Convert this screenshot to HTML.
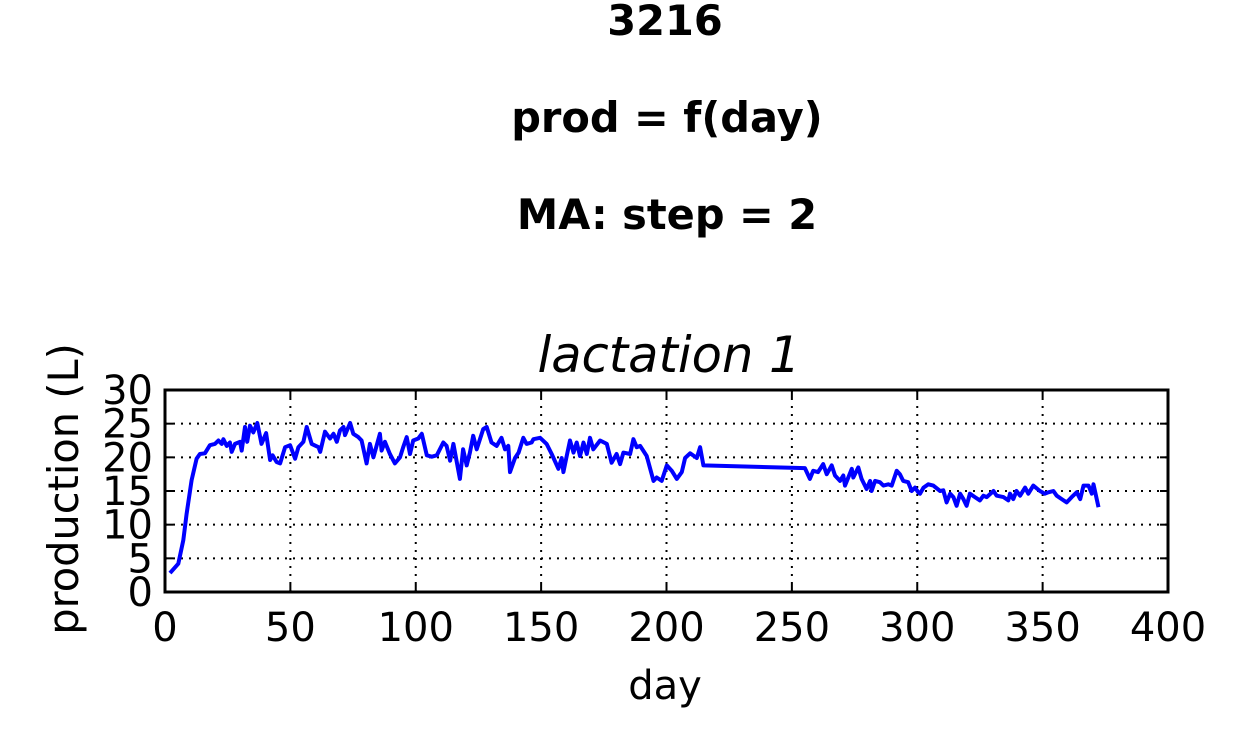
<!DOCTYPE html>
<html><head><meta charset="utf-8"><style>
body{margin:0;background:#fff;width:1250px;height:750px;overflow:hidden}
svg{font-family:"DejaVu Sans","Liberation Sans",sans-serif}
</style></head><body>
<svg id="chart" width="1250" height="750">
<text x="665" y="35" text-anchor="middle" font-size="41.5" font-weight="bold">3216</text>
<text x="667" y="132" text-anchor="middle" font-size="41.5" font-weight="bold">prod = f(day)</text>
<text x="667" y="229" text-anchor="middle" font-size="41.5" font-weight="bold">MA: step = 2</text>
<text x="669" y="372" text-anchor="middle" font-size="49.5" font-style="italic">lactation 1</text>
<g id="grid"></g>
<g id="ticks"></g>
<path id="line" fill="none" stroke="#0000ff" stroke-width="4" stroke-linejoin="round"/>
<rect x="165" y="390" width="1003" height="202" fill="none" stroke="#000" stroke-width="3"/>
<text x="665" y="699" text-anchor="middle" font-size="40">day</text>
<text transform="translate(78,489) rotate(-90)" text-anchor="middle" font-size="41.5">production (L)</text>
</svg>
<script>
const xTicks=[0,50,100,150,200,250,300,350,400];
const yTicks=[0,5,10,15,20,25,30];
const days=[
2,5.3,7.3,8.6,10.6,12.6,13.9,15.9,17.9,19.9,
21.3,22.6,23.3,24.6,25.9,26.6,27.9,29.9,30.6,31.9,
32.8,33.9,35.2,36.8,38.5,40.3,41.9,42.9,44.5,45.9,
47.9,49.9,51.9,53.2,55.2,56.5,58.5,61.2,61.9,63.8,
65.8,67.2,68.5,69.8,71.2,71.8,73.8,75.1,77.1,78.4,
80.4,81.7,83.1,85.7,86.4,87.7,89.7,91.7,93.7,95.0,
96.4,97.7,99.0,101.0,102.4,104.4,106.4,108.4,
111.0,112.3,113.7,115.0,117.6,118.9,120.3,121.6,122.9,124.3,
126.9,128.3,130.2,132.3,134.2,135.6,136.9,137.6,139.6,141.0,
142.9,144.2,146.2,146.9,149.6,152.2,154.2,156.9,158.2,158.9,
160.2,161.5,162.9,164.2,165.5,166.9,168.2,169.5,170.8,173.5,
176.2,178.1,180.1,181.5,182.8,185.5,186.8,188.1,189.5,192.1,
193.5,194.8,196.1,198.1,200.1,202.1,204.1,206.1,207.4,209.4,
212.1,213.4,214.7,255.2,
257.2,258.5,260.4,262.5,263.9,265.9,267.2,269.2,270.5,271.2,
272.5,273.9,274.5,276.5,277.8,279.8,281.2,281.8,283.2,285.1,
286.5,288.5,289.8,291.8,293.1,294.4,296.4,297.8,299.1,300.4,
301.1,302.5,304.4,306.4,309.1,310.4,311.7,313.1,314.4,315.7,
317.1,318.4,319.7,321.0,323.0,325.0,326.4,327.7,330.4,331.7,
334.4,336.3,337.0,338.3,339.6,341.0,343.0,344.3,346.3,348.9,
350.9,352.3,354.3,355.6,357.6,359.6,361.6,363.6,365.0,366.3,
368.3,369.6,370.3,372.3];
const prod=[
2.8,4.2,7.7,11.6,16.6,19.8,20.5,20.6,21.8,22.0,
22.5,22.0,22.7,21.7,22.2,20.8,22.0,22.3,21.0,24.5,
22.3,24.7,23.7,25.1,22.0,23.6,19.6,20.3,19.3,19.1,
21.5,21.8,19.8,21.5,22.3,24.5,22.0,21.5,20.8,23.8,
22.8,23.5,22.3,24.0,24.5,23.3,25.1,23.5,23.0,22.5,
19.1,22.0,20.0,23.5,21.0,22.3,20.5,19.1,20.0,21.5,
23.0,20.5,22.5,22.8,23.5,20.3,20.1,20.3,
22.2,21.7,19.5,22.0,16.8,21.2,18.8,20.7,23.2,21.2,
24.2,24.5,22.2,21.7,22.9,21.2,21.7,17.8,19.9,20.7,
22.9,22.0,22.2,22.7,22.9,22.0,20.5,18.3,19.9,17.8,
20.2,22.5,20.7,22.2,20.2,22.2,20.5,22.9,21.2,22.5,
22.0,19.2,20.5,19.0,20.7,20.5,22.7,21.5,21.7,20.2,
18.3,16.5,17.0,16.5,18.8,18.0,16.8,17.8,19.9,20.6,
19.9,21.5,18.8,18.4,
16.8,18.0,17.8,19.0,17.5,18.8,17.3,16.5,17.3,15.8,
17.0,18.3,17.0,18.5,16.8,15.3,16.5,15.0,16.5,16.3,
15.8,16.0,15.8,18.0,17.5,16.5,16.3,15.0,15.5,14.8,
14.6,15.5,16.0,15.8,15.0,15.1,13.3,14.6,14.1,12.8,
14.6,13.8,12.8,14.6,14.1,13.6,14.3,14.1,15.0,14.3,
14.1,13.6,14.6,13.8,15.0,14.3,15.5,14.6,15.8,15.0,
14.6,14.8,15.0,14.3,13.8,13.3,14.1,14.8,13.8,15.8,
15.8,14.6,16.0,12.6];
const X0=165,X1=1168,Y0=592,Y1=390;
const xs=d=>X0+d/400*(X1-X0);
const ys=v=>Y0-v/30*(Y0-Y1);
const NS='http://www.w3.org/2000/svg';
const grid=document.getElementById('grid'),ticks=document.getElementById('ticks');
function mk(tag,attrs,parent){const e=document.createElementNS(NS,tag);for(const k in attrs)e.setAttribute(k,attrs[k]);parent.appendChild(e);return e;}
xTicks.forEach(t=>{
  const x=xs(t);
  if(t>0&&t<400){const g=mk('line',{x1:x,x2:x,y1:Y1,y2:Y0,stroke:'#000','stroke-width':2,'stroke-dasharray':'2,6'},grid);
  
  }
  const tx=mk('text',{x:x,y:641,'text-anchor':'middle','font-size':40},ticks);
  tx.textContent=t;
  
  
  mk('line',{x1:x,x2:x,y1:Y0,y2:Y0-8,stroke:'#000','stroke-width':2},ticks);
  mk('line',{x1:x,x2:x,y1:Y1,y2:Y1+8,stroke:'#000','stroke-width':2},ticks);
});
yTicks.forEach(t=>{
  const y=ys(t);
  if(t>0&&t<30){const g=mk('line',{x1:X0,x2:X1,y1:y,y2:y,stroke:'#000','stroke-width':2,'stroke-dasharray':'2,6'},grid);
  
  }
  const tx=mk('text',{x:153,y:y+14,'text-anchor':'end','font-size':40},ticks);
  tx.textContent=t;
  
  
  mk('line',{x1:X0,x2:X0+8,y1:y,y2:y,stroke:'#000','stroke-width':2},ticks);
  mk('line',{x1:X1,x2:X1-8,y1:y,y2:y,stroke:'#000','stroke-width':2},ticks);
});
document.getElementById('line').setAttribute('d',days.map((d,i)=>(i?'L':'M')+xs(d).toFixed(1)+' '+ys(prod[i]).toFixed(1)).join(' '));
</script>
</body></html>
